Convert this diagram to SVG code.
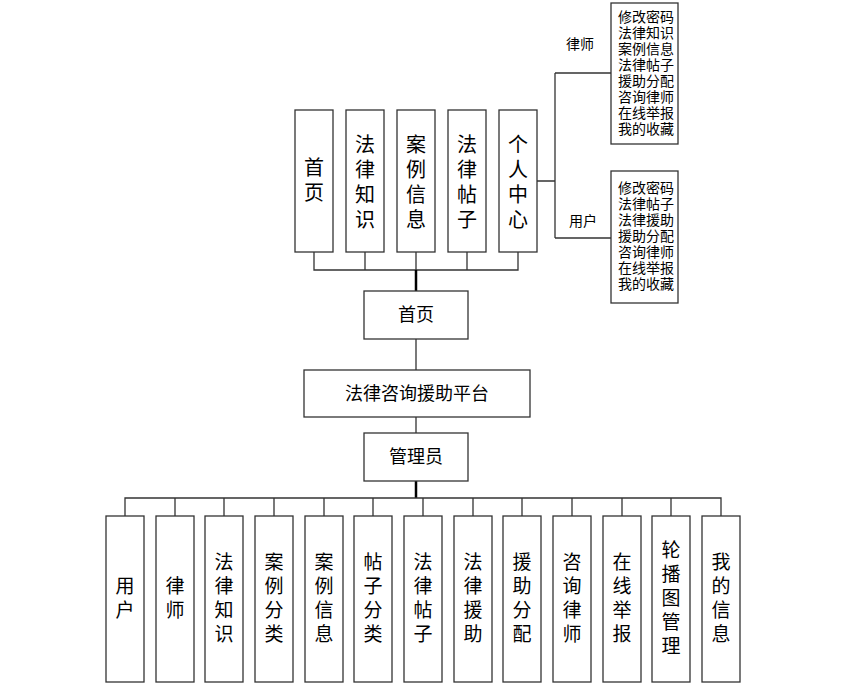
<svg xmlns="http://www.w3.org/2000/svg" width="861" height="685" viewBox="0 0 861 685">
<style>
rect{fill:#fff;stroke:#333;stroke-width:1.3}
rect.bg{stroke:none}
text{font-family:"Liberation Serif","Noto Sans CJK SC",serif;fill:#000;text-anchor:middle}
.v{font-size:20px}
.b{font-size:19px}
.m{font-size:18px}
.s{font-size:14px;font-family:"Liberation Sans","Noto Sans CJK SC",sans-serif;text-anchor:start}
.l{font-size:14px;font-family:"Liberation Sans","Noto Sans CJK SC",sans-serif}
.c{fill:none;stroke:#333;stroke-width:1.3}
.t{fill:none;stroke:#000;stroke-width:2.5}
</style>
<rect class="bg" width="861" height="685"/>
<g id="connectors">
<path class="c" d="M314 252V270H518V252M365 252V270M416 252V270M467 252V270"/>
<path class="t" d="M416 270V291"/>
<path class="c" d="M416 339V370M416 417V433"/>
<path class="t" d="M416 481V498"/>
<path class="c" d="M125 516V498H721V516M175 498V516M224 498V516M274 498V516M324 498V516M373 498V516M423 498V516M473 498V516M522 498V516M572 498V516M622 498V516M671 498V516"/>
<path class="c" d="M537 181H555M555 73V238M555 73H611M555 238H611"/>
</g>
<g id="top" class="v">
<g id="n1"><rect x="295" y="110" width="38" height="142"/><text x="314" y="175">首</text><text x="314" y="200">页</text></g>
<g id="n2"><rect x="346" y="110" width="38" height="142"/><text x="365" y="152">法</text><text x="365" y="177">律</text><text x="365" y="202">知</text><text x="365" y="227">识</text></g>
<g id="n3"><rect x="397" y="110" width="38" height="142"/><text x="416" y="152">案</text><text x="416" y="177">例</text><text x="416" y="202">信</text><text x="416" y="227">息</text></g>
<g id="n4"><rect x="448" y="110" width="38" height="142"/><text x="467" y="152">法</text><text x="467" y="177">律</text><text x="467" y="202">帖</text><text x="467" y="227">子</text></g>
<g id="n5"><rect x="499" y="110" width="38" height="142"/><text x="518" y="152">个</text><text x="518" y="177">人</text><text x="518" y="202">中</text><text x="518" y="227">心</text></g>
</g>
<g id="home"><rect x="364" y="291" width="104" height="48"/><text class="m" x="416" y="321">首页</text></g>
<g id="platform"><rect x="304" y="370" width="226" height="47"/><text class="m" x="417" y="400">法律咨询援助平台</text></g>
<g id="admin"><rect x="364" y="433" width="104" height="48"/><text class="m" x="416" y="463">管理员</text></g>
<text class="l" x="580" y="49">律师</text>
<text class="l" x="583" y="226">用户</text>
<g id="lawyer"><rect x="611" y="3" width="67" height="141"/>
<text class="s" x="618" y="22">修改密码</text><text class="s" x="618" y="38">法律知识</text><text class="s" x="618" y="54">案例信息</text><text class="s" x="618" y="70">法律帖子</text><text class="s" x="618" y="86">援助分配</text><text class="s" x="618" y="102">咨询律师</text><text class="s" x="618" y="118">在线举报</text><text class="s" x="618" y="134">我的收藏</text></g>
<g id="user"><rect x="611" y="171" width="67" height="132"/>
<text class="s" x="618" y="193">修改密码</text><text class="s" x="618" y="209">法律帖子</text><text class="s" x="618" y="225">法律援助</text><text class="s" x="618" y="241">援助分配</text><text class="s" x="618" y="257">咨询律师</text><text class="s" x="618" y="273">在线举报</text><text class="s" x="618" y="289">我的收藏</text></g>
<g id="bottom" class="b">
<g id="b1"><rect x="106" y="516" width="38" height="166"/><text x="125" y="593">用</text><text x="125" y="617">户</text></g>
<g id="b2"><rect x="156" y="516" width="38" height="166"/><text x="175" y="593">律</text><text x="175" y="617">师</text></g>
<g id="b3"><rect x="205" y="516" width="38" height="166"/><text x="224" y="569">法</text><text x="224" y="593">律</text><text x="224" y="617">知</text><text x="224" y="641">识</text></g>
<g id="b4"><rect x="255" y="516" width="38" height="166"/><text x="274" y="569">案</text><text x="274" y="593">例</text><text x="274" y="617">分</text><text x="274" y="641">类</text></g>
<g id="b5"><rect x="305" y="516" width="38" height="166"/><text x="324" y="569">案</text><text x="324" y="593">例</text><text x="324" y="617">信</text><text x="324" y="641">息</text></g>
<g id="b6"><rect x="354" y="516" width="38" height="166"/><text x="373" y="569">帖</text><text x="373" y="593">子</text><text x="373" y="617">分</text><text x="373" y="641">类</text></g>
<g id="b7"><rect x="404" y="516" width="38" height="166"/><text x="423" y="569">法</text><text x="423" y="593">律</text><text x="423" y="617">帖</text><text x="423" y="641">子</text></g>
<g id="b8"><rect x="454" y="516" width="38" height="166"/><text x="473" y="569">法</text><text x="473" y="593">律</text><text x="473" y="617">援</text><text x="473" y="641">助</text></g>
<g id="b9"><rect x="503" y="516" width="38" height="166"/><text x="522" y="569">援</text><text x="522" y="593">助</text><text x="522" y="617">分</text><text x="522" y="641">配</text></g>
<g id="b10"><rect x="553" y="516" width="38" height="166"/><text x="572" y="569">咨</text><text x="572" y="593">询</text><text x="572" y="617">律</text><text x="572" y="641">师</text></g>
<g id="b11"><rect x="603" y="516" width="38" height="166"/><text x="622" y="569">在</text><text x="622" y="593">线</text><text x="622" y="617">举</text><text x="622" y="641">报</text></g>
<g id="b12"><rect x="652" y="516" width="38" height="166"/><text x="671" y="557">轮</text><text x="671" y="581">播</text><text x="671" y="605">图</text><text x="671" y="629">管</text><text x="671" y="653">理</text></g>
<g id="b13"><rect x="702" y="516" width="38" height="166"/><text x="721" y="569">我</text><text x="721" y="593">的</text><text x="721" y="617">信</text><text x="721" y="641">息</text></g>
</g>
</svg>
